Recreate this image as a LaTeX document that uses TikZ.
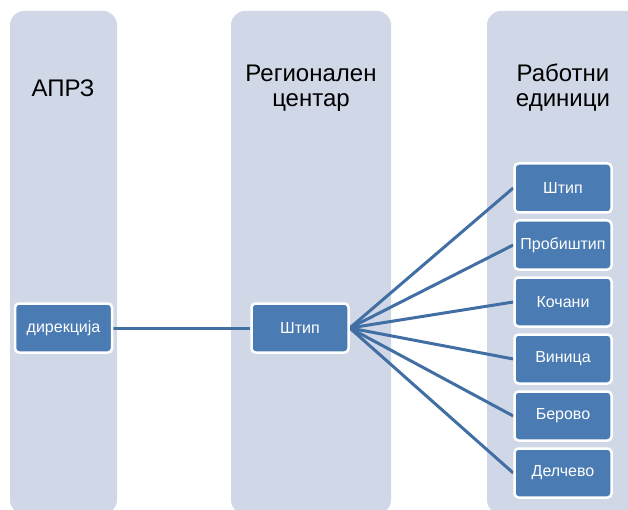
\documentclass[tikz,border=0pt]{standalone}
\usepackage{fontspec}
\setmainfont{Liberation Sans}
\definecolor{colfill}{HTML}{D0D7E6}
\definecolor{boxfill}{HTML}{4A7BB3}
\definecolor{linecol}{HTML}{426FA3}
\pgfdeclarelayer{bg}
\pgfdeclarelayer{conns}
\pgfsetlayers{bg,conns,main}
\begin{document}
\begin{tikzpicture}[x=1pt,y=-1pt,
  column/.style={fill=colfill,rounded corners=14pt},
  unitbox/.style={draw=white,line width=2.5pt,fill=boxfill,rounded corners=4pt,
     minimum width=97pt,minimum height=49pt,inner sep=0pt,text=white,font=\fontsize{16}{19}\selectfont},
  title/.style={align=center,font=\fontsize{24}{25}\selectfont,text=black},
  conn/.style={draw=linecol,line width=3pt}]
\useasboundingbox (0,0) rectangle (628,510);
\begin{pgfonlayer}{bg}
\clip (0,0) rectangle (628,510);
\fill[column] (10,11) rectangle (117,514);
\fill[column] (231,11) rectangle (391,514);
\fill[column] (487,11) rectangle (660,514);
\end{pgfonlayer}
\node[title] (t1) at (63,88) {АПРЗ};
\node[title] (t2) at (311,88) {Регионален\\центар};
\node[title] (t3) at (563,88) {Работни\\единици};
\node[unitbox] (dir) at (63.5,328) {дирекција};
\node[unitbox] (rc) at (300,328) {Штип};
\node[unitbox] (u1) at (563,188) {Штип};
\node[unitbox] (u2) at (563,245) {Пробиштип};
\node[unitbox] (u3) at (563,302) {Кочани};
\node[unitbox] (u4) at (563,359) {Виница};
\node[unitbox] (u5) at (563,416) {Берово};
\node[unitbox] (u6) at (563,473) {Делчево};
\begin{pgfonlayer}{conns}
\draw[conn] (dir.east) -- (rc.west);
\foreach \u in {u1,u2,u3,u4,u5,u6}{\draw[conn] (rc.east) -- (\u.west);}
\end{pgfonlayer}
\end{tikzpicture}
\end{document}
